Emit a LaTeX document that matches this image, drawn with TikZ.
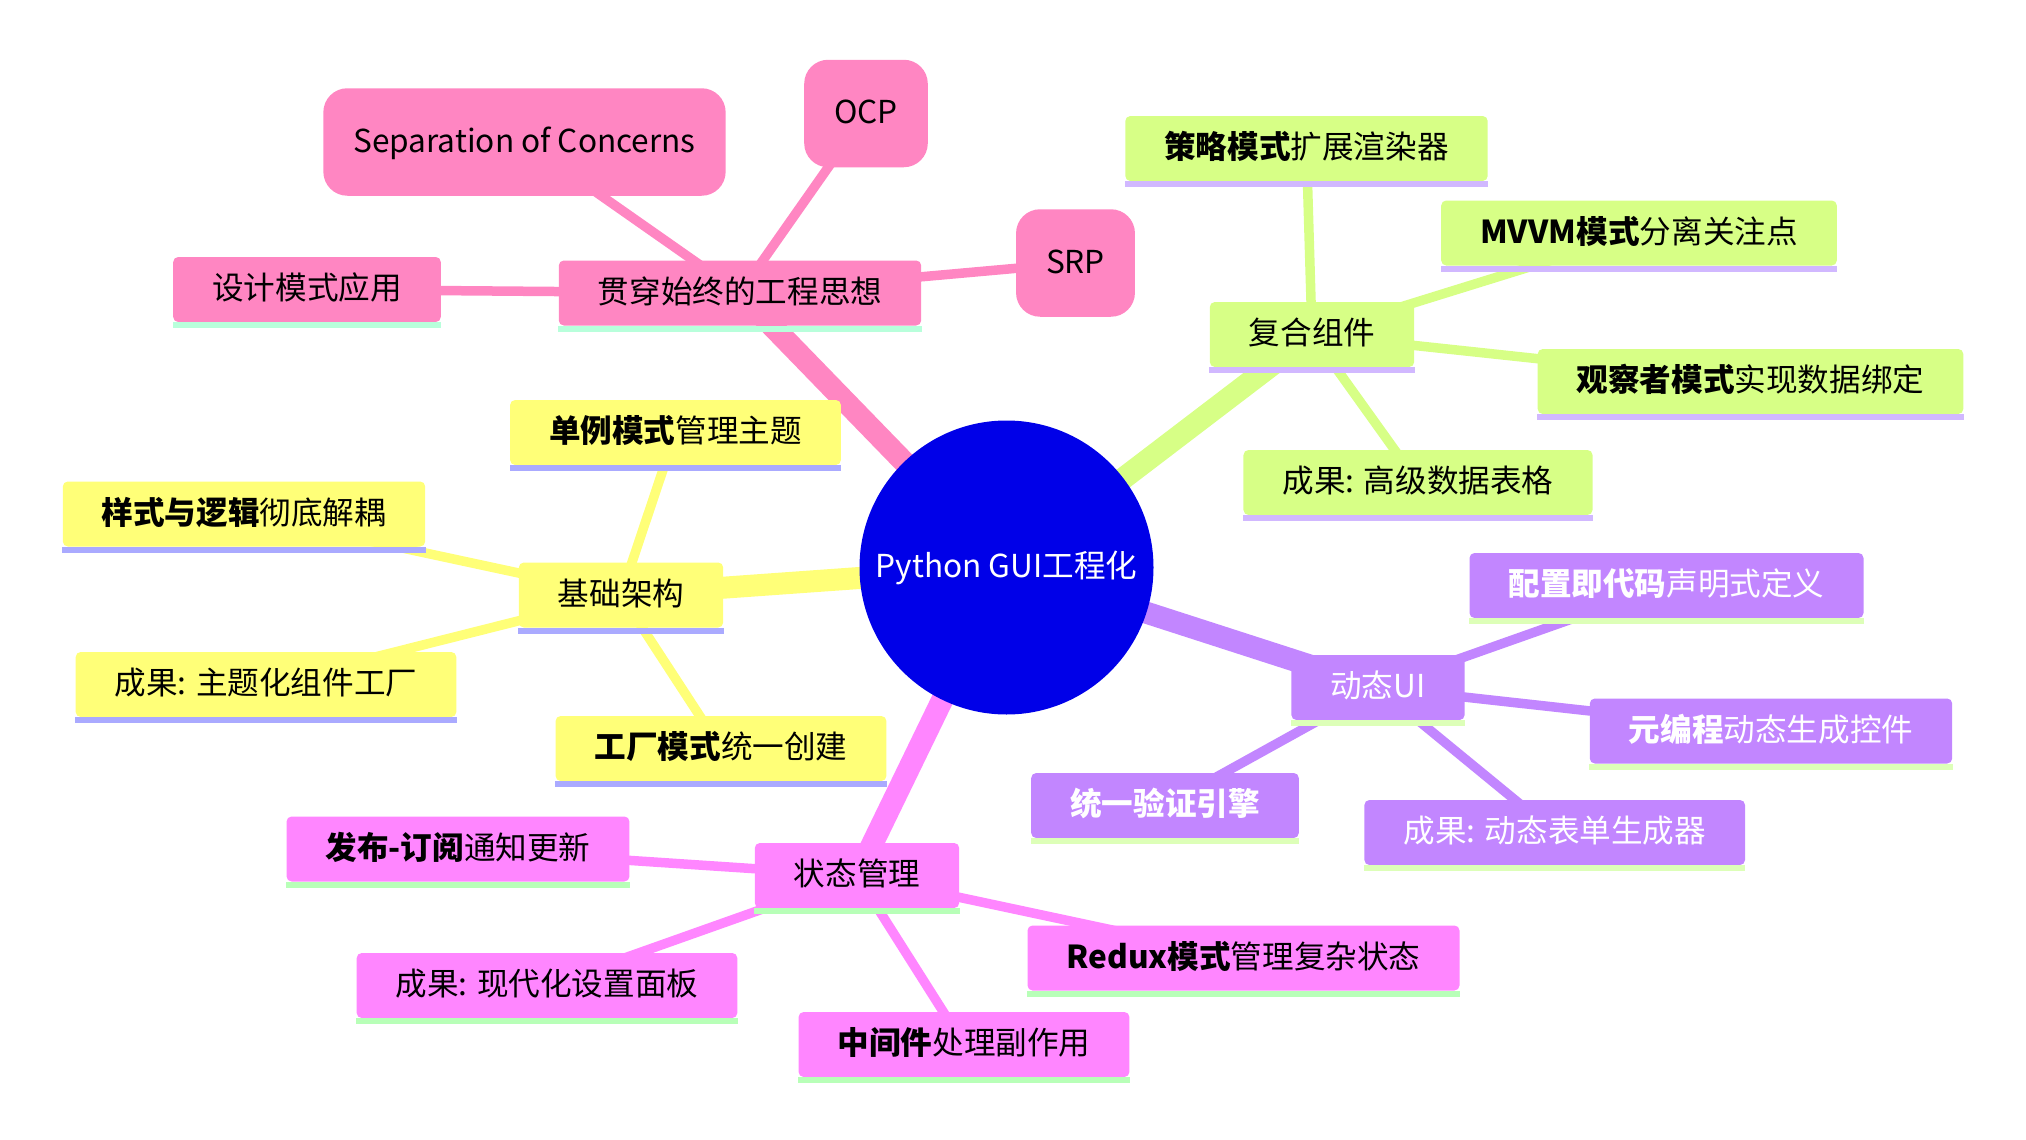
\documentclass[tikz,border=0pt]{standalone}
\usepackage{fontspec}
\setmainfont{Noto Sans CJK SC}
\newcommand\nodefont{\fontsize{15.8}{19}\selectfont}
\definecolor{rootC}{HTML}{0000E8}
\definecolor{pinkC}{HTML}{FF86C2}\definecolor{pinkU}{HTML}{B8FFDB}
\definecolor{limeC}{HTML}{D7FF86}\definecolor{limeU}{HTML}{D1B8FF}
\definecolor{yelC}{HTML}{FFFF78}\definecolor{yelU}{HTML}{AAAAFF}
\definecolor{purC}{HTML}{C286FF}\definecolor{purU}{HTML}{DDFFB8}
\definecolor{magC}{HTML}{FF86FF}\definecolor{magU}{HTML}{B8FFB8}
\begin{document}
\begin{tikzpicture}[x=0.5pt,y=-0.5pt,
  base/.style={font=\nodefont, inner ysep=0pt, text height=1.08em, text depth=0.06em},
  box/.style={base, rectangle, rounded corners=2.5pt, minimum height=32.5pt, inner xsep=19.5pt},
  rbox/.style={base, rectangle, rounded corners=12pt, minimum height=53.75pt, inner xsep=15pt},
  rootnode/.style={base, circle, fill=rootC, text=white, minimum size=147pt, inner sep=0pt},
  pinkbox/.style={box, fill=pinkC}, pinkr/.style={rbox, fill=pinkC},
  limebox/.style={box, fill=limeC},
  yelbox/.style={box, fill=yelC},
  purbox/.style={box, fill=purC, text=white},
  magbox/.style={box, fill=magC},
  main/.style={line width=11pt},
  sub/.style={line width=4.75pt},
]
\useasboundingbox (0,0) rectangle (2026,1140);
% node centres
\path
 (1006.5,567.5) coordinate (root-c)
 (740,293) coordinate (p0-c) (307,289.5) coordinate (p1-c) (524.5,142) coordinate (p2-c)
 (866,113.5) coordinate (p3-c) (1075.5,263) coordinate (p4-c)
 (1312,334.5) coordinate (g0-c) (1306.5,148.5) coordinate (g1-c) (1639,233) coordinate (g2-c)
 (1750.5,381.5) coordinate (g3-c) (1418,482.5) coordinate (g4-c)
 (621,595) coordinate (y0-c) (675.5,432.5) coordinate (y1-c) (244,514) coordinate (y2-c)
 (266,684.5) coordinate (y3-c) (721,748.5) coordinate (y4-c)
 (1378,687.5) coordinate (u0-c) (1666.5,585.5) coordinate (u1-c) (1771,731) coordinate (u2-c)
 (1165,805.5) coordinate (u3-c) (1554.7,832.5) coordinate (u4-c)
 (857,875.5) coordinate (m0-c) (458,849) coordinate (m1-c) (547,985.5) coordinate (m2-c)
 (1243.5,958) coordinate (m3-c) (964,1044.5) coordinate (m4-c);
% sub edges
\foreach \s/\c in {p/pinkC,g/limeC,y/yelC,u/purC,m/magC}{
  \foreach \k in {1,2,3,4}{
    \draw[sub,draw=\c] (\s0-c) -- (\s\k-c);
  }
}
% main edges
\draw[main,draw=pinkC] (root-c) -- (p0-c);
\draw[main,draw=limeC] (root-c) -- (g0-c);
\draw[main,draw=yelC] (root-c) -- (y0-c);
\draw[main,draw=purC] (root-c) -- (u0-c);
\draw[main,draw=magC] (root-c) -- (m0-c);
% nodes
\node[rootnode] (root) at (root-c) {Python GUI工程化};
\node[pinkbox] (p0) at (p0-c) {贯穿始终的工程思想};
\node[pinkbox] (p1) at (p1-c) {设计模式应用};
\node[pinkr] (p2) at (p2-c) {Separation of Concerns};
\node[pinkr] (p3) at (p3-c) {OCP};
\node[pinkr] (p4) at (p4-c) {SRP};
\node[limebox] (g0) at (g0-c) {复合组件};
\node[limebox] (g1) at (g1-c) {\textbf{策略模式}扩展渲染器};
\node[limebox] (g2) at (g2-c) {\textbf{MVVM模式}分离关注点};
\node[limebox] (g3) at (g3-c) {\textbf{观察者模式}实现数据绑定};
\node[limebox] (g4) at (g4-c) {成果: 高级数据表格};
\node[yelbox] (y0) at (y0-c) {基础架构};
\node[yelbox] (y1) at (y1-c) {\textbf{单例模式}管理主题};
\node[yelbox] (y2) at (y2-c) {\textbf{样式与逻辑}彻底解耦};
\node[yelbox] (y3) at (y3-c) {成果: 主题化组件工厂};
\node[yelbox] (y4) at (y4-c) {\textbf{工厂模式}统一创建};
\node[purbox] (u0) at (u0-c) {动态UI};
\node[purbox] (u1) at (u1-c) {\textbf{配置即代码}声明式定义};
\node[purbox] (u2) at (u2-c) {\textbf{元编程}动态生成控件};
\node[purbox] (u3) at (u3-c) {\textbf{统一验证引擎}};
\node[purbox] (u4) at (u4-c) {成果: 动态表单生成器};
\node[magbox] (m0) at (m0-c) {状态管理};
\node[magbox] (m1) at (m1-c) {\textbf{发布-订阅}通知更新};
\node[magbox] (m2) at (m2-c) {成果: 现代化设置面板};
\node[magbox] (m3) at (m3-c) {\textbf{Redux模式}管理复杂状态};
\node[magbox] (m4) at (m4-c) {\textbf{中间件}处理副作用};
% underlines
\foreach \n/\c in {p0/pinkU,p1/pinkU,g0/limeU,g1/limeU,g2/limeU,g3/limeU,g4/limeU,
  y0/yelU,y1/yelU,y2/yelU,y3/yelU,y4/yelU,u0/purU,u1/purU,u2/purU,u3/purU,u4/purU,
  m0/magU,m1/magU,m2/magU,m3/magU,m4/magU}{
  \fill[\c] (\n.south west) rectangle ([yshift=-2.8pt]\n.south east);
}
\end{tikzpicture}
\end{document}
